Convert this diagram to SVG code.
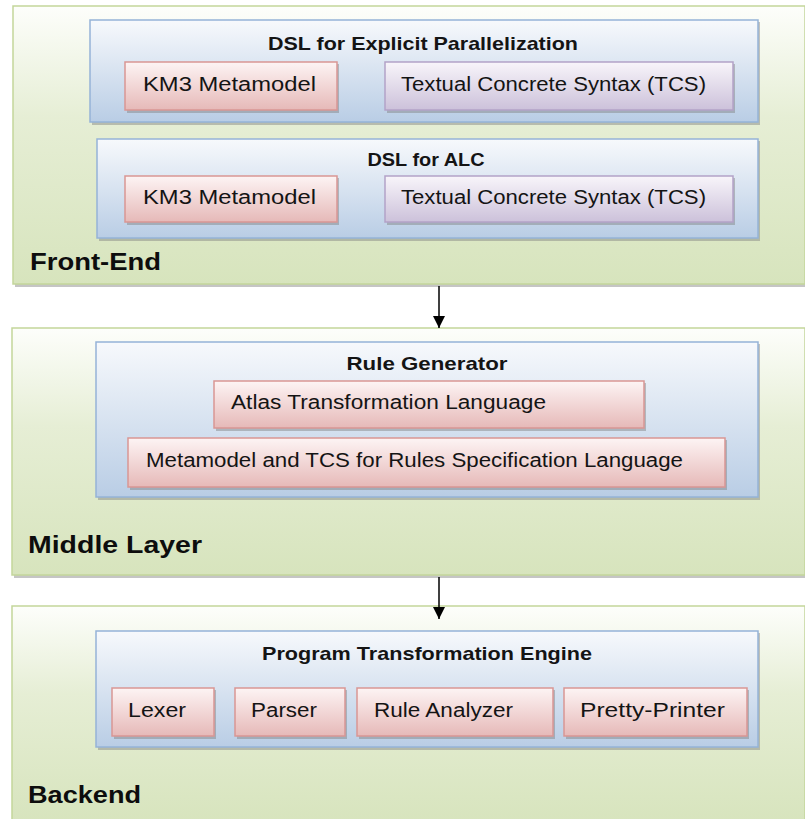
<svg xmlns="http://www.w3.org/2000/svg" width="805" height="819" viewBox="0 0 805 819">
  <defs>
    <linearGradient id="gLayer" x1="0" y1="0" x2="0" y2="1">
      <stop offset="0" stop-color="#fdfefb"/>
      <stop offset="0.4" stop-color="#e6eed5"/>
      <stop offset="1" stop-color="#d7e4bd"/>
    </linearGradient>
    <linearGradient id="gBlue" x1="0" y1="0" x2="0" y2="1">
      <stop offset="0" stop-color="#f7f9fc"/>
      <stop offset="1" stop-color="#b9cde5"/>
    </linearGradient>
    <linearGradient id="gRed" x1="0" y1="0" x2="0" y2="1">
      <stop offset="0" stop-color="#fdf4f4"/>
      <stop offset="1" stop-color="#e6b9b8"/>
    </linearGradient>
    <linearGradient id="gPurple" x1="0" y1="0" x2="0" y2="1">
      <stop offset="0" stop-color="#f8f5fa"/>
      <stop offset="1" stop-color="#ccc1da"/>
    </linearGradient>
    <marker id="arrow" viewBox="0 0 12 12" refX="12" refY="6" markerWidth="12" markerHeight="12" markerUnits="userSpaceOnUse" orient="auto">
      <path d="M0,0 L12,6 L0,12 z" fill="#000"/>
    </marker>
  </defs>
  <style>
    .shadow { fill: #7f7f7f; opacity: 0.45; }
    .layer { fill: url(#gLayer); stroke: #c3d69b; stroke-width: 1.5; }
    .blue { fill: url(#gBlue); stroke: #95b3d7; stroke-width: 1.5; }
    .red { fill: url(#gRed); stroke: #d99694; stroke-width: 1.5; }
    .purple { fill: url(#gPurple); stroke: #b3a2c7; stroke-width: 1.5; }
    text { font-family: "Liberation Sans", Arial, sans-serif; fill: #141414; }
    .title { font-size: 19px; font-weight: bold; text-anchor: middle; }
    .item { font-size: 20px; }
    .layerLabel { font-size: 24px; font-weight: bold; fill: #0d0d0d; }
    .conn { stroke: #000; stroke-width: 1.5; fill: none; }
  </style>

  <!-- Front-End layer -->
  <g id="front-end">
    <rect class="shadow" x="15" y="8" width="792" height="279"/>
    <rect class="layer" x="13" y="6" width="792" height="278"/>
    <text class="layerLabel" x="30" y="270" textLength="131" lengthAdjust="spacingAndGlyphs">Front-End</text>
  </g>

  <g id="dsl-parallel">
    <rect class="shadow" x="92" y="22" width="668" height="103"/>
    <rect class="blue" x="90" y="20" width="668" height="102"/>
    <text class="title" x="423" y="50" textLength="310" lengthAdjust="spacingAndGlyphs">DSL for Explicit Parallelization</text>
  </g>
  <g id="km3-parallel">
    <rect class="shadow" x="127" y="64" width="212" height="49"/>
    <rect class="red" x="125" y="62" width="212" height="48"/>
    <text class="item" x="143" y="91" textLength="173" lengthAdjust="spacingAndGlyphs">KM3 Metamodel</text>
  </g>
  <g id="tcs-parallel">
    <rect class="shadow" x="387" y="64" width="348" height="49"/>
    <rect class="purple" x="385" y="62" width="348" height="48"/>
    <text class="item" x="401" y="91" textLength="305" lengthAdjust="spacingAndGlyphs">Textual Concrete Syntax (TCS)</text>
  </g>

  <g id="dsl-alc">
    <rect class="shadow" x="99" y="141" width="661" height="100"/>
    <rect class="blue" x="97" y="139" width="661" height="99"/>
    <text class="title" x="426" y="166" textLength="117" lengthAdjust="spacingAndGlyphs">DSL for ALC</text>
  </g>
  <g id="km3-alc">
    <rect class="shadow" x="127" y="178" width="212" height="47"/>
    <rect class="red" x="125" y="176" width="212" height="46"/>
    <text class="item" x="143" y="204" textLength="173" lengthAdjust="spacingAndGlyphs">KM3 Metamodel</text>
  </g>
  <g id="tcs-alc">
    <rect class="shadow" x="387" y="178" width="348" height="47"/>
    <rect class="purple" x="385" y="176" width="348" height="46"/>
    <text class="item" x="401" y="204" textLength="305" lengthAdjust="spacingAndGlyphs">Textual Concrete Syntax (TCS)</text>
  </g>

  <!-- Middle Layer -->
  <g id="middle-layer">
    <rect class="shadow" x="14" y="330" width="793" height="248"/>
    <rect class="layer" x="12" y="328" width="793" height="247"/>
    <text class="layerLabel" x="28" y="553" textLength="174" lengthAdjust="spacingAndGlyphs">Middle Layer</text>
  </g>
  <g id="rule-generator">
    <rect class="shadow" x="98" y="344" width="662" height="156"/>
    <rect class="blue" x="96" y="342" width="662" height="155"/>
    <text class="title" x="427" y="370" textLength="161" lengthAdjust="spacingAndGlyphs">Rule Generator</text>
  </g>
  <g id="atlas">
    <rect class="shadow" x="216" y="383" width="430" height="48"/>
    <rect class="red" x="214" y="381" width="430" height="47"/>
    <text class="item" x="231" y="409" textLength="315" lengthAdjust="spacingAndGlyphs">Atlas Transformation Language</text>
  </g>
  <g id="rules-spec">
    <rect class="shadow" x="130" y="440" width="597" height="50"/>
    <rect class="red" x="128" y="438" width="597" height="49"/>
    <text class="item" x="146" y="467" textLength="537" lengthAdjust="spacingAndGlyphs">Metamodel and TCS for Rules Specification Language</text>
  </g>

  <!-- Backend -->
  <g id="backend">
    <rect class="shadow" x="14" y="608" width="793" height="215"/>
    <rect class="layer" x="12" y="606" width="793" height="218"/>
    <text class="layerLabel" x="28" y="803" textLength="113" lengthAdjust="spacingAndGlyphs">Backend</text>
  </g>
  <g id="transformation-engine">
    <rect class="shadow" x="98" y="633" width="662" height="117"/>
    <rect class="blue" x="96" y="631" width="662" height="116"/>
    <text class="title" x="427" y="660" textLength="330" lengthAdjust="spacingAndGlyphs">Program Transformation Engine</text>
  </g>
  <g id="lexer">
    <rect class="shadow" x="114" y="690" width="102" height="49"/>
    <rect class="red" x="112" y="688" width="102" height="48"/>
    <text class="item" x="128" y="717" textLength="58" lengthAdjust="spacingAndGlyphs">Lexer</text>
  </g>
  <g id="parser">
    <rect class="shadow" x="237" y="690" width="110" height="49"/>
    <rect class="red" x="235" y="688" width="110" height="48"/>
    <text class="item" x="251" y="717" textLength="66" lengthAdjust="spacingAndGlyphs">Parser</text>
  </g>
  <g id="rule-analyzer">
    <rect class="shadow" x="359" y="690" width="196" height="49"/>
    <rect class="red" x="357" y="688" width="196" height="48"/>
    <text class="item" x="374" y="717" textLength="139" lengthAdjust="spacingAndGlyphs">Rule Analyzer</text>
  </g>
  <g id="pretty-printer">
    <rect class="shadow" x="566" y="690" width="183" height="49"/>
    <rect class="red" x="564" y="688" width="183" height="48"/>
    <text class="item" x="580" y="717" textLength="145" lengthAdjust="spacingAndGlyphs">Pretty-Printer</text>
  </g>

  <!-- Connectors between layers -->
  <g id="connectors">
    <line class="conn" x1="439" y1="286" x2="439" y2="328" marker-end="url(#arrow)"/>
    <line class="conn" x1="439" y1="577" x2="439" y2="619" marker-end="url(#arrow)"/>
  </g>
</svg>
